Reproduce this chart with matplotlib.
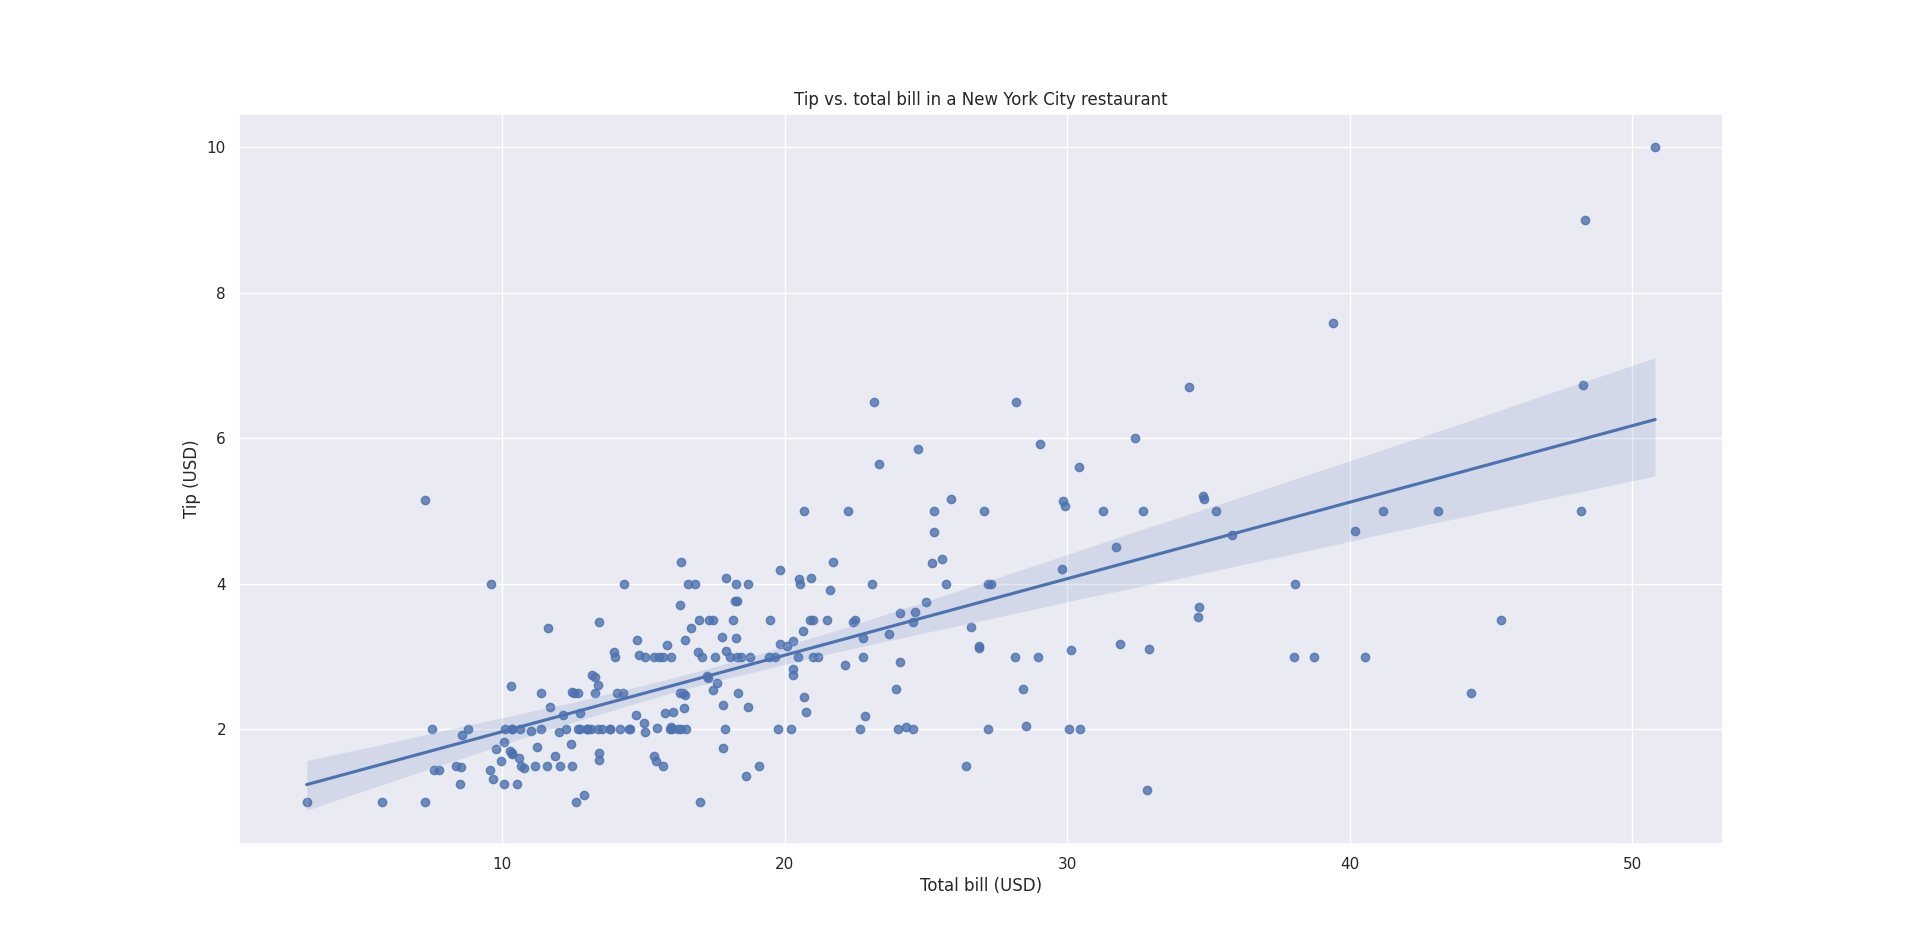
import numpy as np
import pandas as pd
import seaborn as sns
from matplotlib import pyplot as plt

# total bill and tip per table (USD)
total_bill = [
    16.99, 10.34, 21.01, 23.68, 24.59, 25.29, 8.77, 26.88, 15.04, 14.78,
    10.27, 35.26, 15.42, 18.43, 14.83, 21.58, 10.33, 16.29, 16.97, 20.65,
    17.92, 20.29, 15.77, 39.42, 19.82, 17.81, 13.37, 12.69, 21.70, 19.65,
    9.55, 18.35, 15.06, 20.69, 17.78, 24.06, 16.31, 16.93, 18.69, 31.27,
    16.04, 17.46, 13.94, 9.68, 30.40, 18.29, 22.23, 32.40, 28.55, 18.04,
    12.54, 10.29, 34.81, 9.94, 25.56, 19.49, 38.01, 26.41, 11.24, 48.27,
    20.29, 13.81, 11.02, 18.29, 17.59, 20.08, 16.45, 3.07, 20.23, 15.01,
    12.02, 17.07, 26.86, 25.28, 14.73, 10.51, 17.92, 27.20, 22.76, 17.29,
    19.44, 16.66, 10.07, 32.68, 15.98, 34.83, 13.03, 18.28, 24.71, 21.16,
    28.97, 22.49, 5.75, 16.32, 22.75, 40.17, 27.28, 12.03, 21.01, 12.46,
    11.35, 15.38, 44.30, 22.42, 20.92, 15.36, 20.49, 25.21, 18.24, 14.31,
    14.00, 7.25, 38.07, 23.95, 25.71, 17.31, 29.93, 10.65, 12.43, 24.08,
    11.69, 13.42, 14.26, 15.95, 12.48, 29.80, 8.52, 14.52, 11.38, 22.82,
    19.08, 20.27, 11.17, 12.26, 18.26, 8.51, 10.33, 14.15, 16.00, 13.16,
    17.47, 34.30, 41.19, 27.05, 16.43, 8.35, 18.64, 11.87, 9.78, 7.51,
    14.07, 13.13, 17.26, 24.55, 19.77, 29.85, 48.17, 25.00, 13.39, 16.49,
    21.50, 12.66, 16.21, 13.81, 17.51, 24.52, 20.76, 31.71, 10.59, 10.63,
    50.81, 15.81, 7.25, 31.85, 16.82, 32.90, 17.89, 14.48, 9.60, 34.63,
    34.65, 23.33, 45.35, 23.17, 40.55, 20.69, 20.90, 30.46, 18.15, 23.10,
    15.69, 19.81, 28.44, 15.48, 16.58, 7.56, 10.34, 43.11, 13.00, 13.51,
    18.71, 12.74, 13.00, 16.40, 20.53, 16.47, 26.59, 38.73, 24.27, 12.76,
    30.06, 25.89, 48.33, 13.27, 28.17, 12.90, 28.15, 11.59, 7.74, 30.14,
    12.16, 13.42, 8.58, 15.98, 13.42, 16.27, 10.09, 20.45, 13.28, 22.12,
    24.01, 15.69, 11.61, 10.77, 15.53, 10.07, 12.60, 32.83, 35.83, 29.03,
    27.18, 22.67, 17.82, 18.78,
]
tip = [
    1.01, 1.66, 3.50, 3.31, 3.61, 4.71, 2.00, 3.12, 1.96, 3.23,
    1.71, 5.00, 1.57, 3.00, 3.02, 3.92, 1.67, 3.71, 3.50, 3.35,
    4.08, 2.75, 2.23, 7.58, 3.18, 2.34, 2.00, 2.00, 4.30, 3.00,
    1.45, 2.50, 3.00, 2.45, 3.27, 3.60, 2.00, 3.07, 2.31, 5.00,
    2.24, 2.54, 3.06, 1.32, 5.60, 3.00, 5.00, 6.00, 2.05, 3.00,
    2.50, 2.60, 5.20, 1.56, 4.34, 3.51, 3.00, 1.50, 1.76, 6.73,
    3.21, 2.00, 1.98, 3.76, 2.64, 3.15, 2.47, 1.00, 2.01, 2.09,
    1.97, 3.00, 3.14, 5.00, 2.20, 1.25, 3.08, 4.00, 3.00, 2.71,
    3.00, 3.40, 1.83, 5.00, 2.03, 5.17, 2.00, 4.00, 5.85, 3.00,
    3.00, 3.50, 1.00, 4.30, 3.25, 4.73, 4.00, 1.50, 3.00, 1.50,
    2.50, 3.00, 2.50, 3.48, 4.08, 1.64, 4.06, 4.29, 3.76, 4.00,
    3.00, 1.00, 4.00, 2.55, 4.00, 3.50, 5.07, 1.50, 1.80, 2.92,
    2.31, 1.68, 2.50, 2.00, 2.52, 4.20, 1.48, 2.00, 2.00, 2.18,
    1.50, 2.83, 1.50, 2.00, 3.25, 1.25, 2.00, 2.00, 2.00, 2.75,
    3.50, 6.70, 5.00, 5.00, 2.30, 1.50, 1.36, 1.63, 1.73, 2.00,
    2.50, 2.00, 2.74, 2.00, 2.00, 5.14, 5.00, 3.75, 2.61, 2.00,
    3.50, 2.50, 2.00, 2.00, 3.00, 3.48, 2.24, 4.50, 1.61, 2.00,
    10.00, 3.16, 5.15, 3.18, 4.00, 3.11, 2.00, 2.00, 4.00, 3.55,
    3.68, 5.65, 3.50, 6.50, 3.00, 5.00, 3.50, 2.00, 3.50, 4.00,
    1.50, 4.19, 2.56, 2.02, 4.00, 1.44, 2.00, 5.00, 2.00, 2.00,
    4.00, 2.01, 2.00, 2.50, 4.00, 3.23, 3.41, 3.00, 2.03, 2.23,
    2.00, 5.16, 9.00, 2.50, 6.50, 1.10, 3.00, 1.50, 1.44, 3.09,
    2.20, 3.48, 1.92, 3.00, 1.58, 2.50, 2.00, 3.00, 2.72, 2.88,
    2.00, 3.00, 3.39, 1.47, 3.00, 1.25, 1.00, 1.17, 4.67, 5.92,
    2.00, 2.00, 1.75, 3.00,
]

tips = pd.DataFrame({"total_bill": total_bill, "tip": tip})

sns.set_theme()
fig, ax = plt.subplots(figsize=(19.14, 9.48), dpi=100)
sns.regplot(data=tips, x="total_bill", y="tip", ax=ax, seed=0)
ax.set_title("Tip vs. total bill in a New York City restaurant")
ax.set_xlabel("Total bill (USD)")
ax.set_ylabel("Tip (USD)")

plt.savefig("out.png")
